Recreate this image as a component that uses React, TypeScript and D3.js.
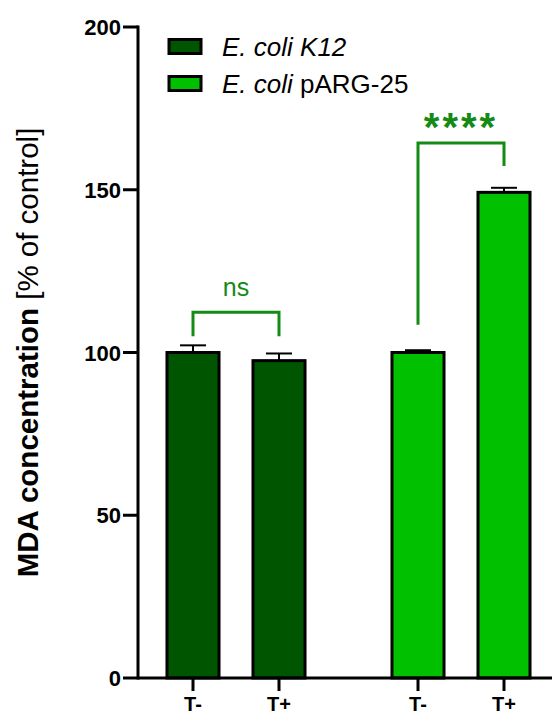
import React from 'react';
import * as d3 from 'd3';

const groups = ['K12', 'pARG-25'];
const conditions = ['T-', 'T+'];
const k12Values = [100, 97.5];
const k12Errors = [2.2, 2.2];
const pargValues = [100, 149.2];
const pargErrors = [0.7, 1.4];
const yTicks = [0, 50, 100, 150, 200];
const groupColors = ['#005500', '#00c000'];
const legendPrefix = ['E. coli', 'E. coli'];
const legendSuffix = [' K12', ' pARG-25'];
const legendSuffixItalic = [true, false];

// significance brackets: group index, bracket height, left leg end, right leg end, label
const sigGroup = [0, 1];
const sigTop = [112.4, 164.4];
const sigLeftEnd = [105, 108.5];
const sigRightEnd = [105, 157.3];
const sigLabel = ['ns', '****'];

const W = 552;
const H = 715;
const FONT = 'Arial, "Liberation Sans", sans-serif';
const SIG = '#158a15';

const App = () => {
  const y = d3.scaleLinear().domain([0, 200]).range([678, 27]);
  const x0 = d3.scaleBand().domain(groups).range([146, 551]).paddingInner(0.2).paddingOuter(0);
  const x1 = d3
    .scaleBand()
    .domain(conditions)
    .range([0, x0.bandwidth()])
    .paddingInner(0.395)
    .paddingOuter(0.244);

  const series = [
    { group: groups[0], values: k12Values, errors: k12Errors, color: groupColors[0] },
    { group: groups[1], values: pargValues, errors: pargErrors, color: groupColors[1] },
  ];

  const cx = (g: string, c: string) => (x0(g) as number) + (x1(c) as number) + x1.bandwidth() / 2;
  const bw = x1.bandwidth();
  const axisX = 138;

  return (
    <svg width={W} height={H} style={{ position: 'absolute', left: 0, top: 0 }} fontFamily={FONT}>
      <rect width={W} height={H} fill="#fff" />

      {/* bars */}
      {series.map((s, si) =>
        conditions.map((c, ci) => {
          const v = s.values[ci];
          const e = s.errors[ci];
          const xc = cx(s.group, c);
          return (
            <g key={`${si}-${ci}`}>
              <line x1={xc} x2={xc} y1={y(v)} y2={y(v + e)} stroke="#000" strokeWidth={2} />
              <line x1={xc - 13} x2={xc + 13} y1={y(v + e)} y2={y(v + e)} stroke="#000" strokeWidth={2} />
              <rect
                x={xc - bw / 2}
                y={y(v)}
                width={bw}
                height={y(0) - y(v)}
                fill={s.color}
                stroke="#000"
                strokeWidth={3}
              />
            </g>
          );
        })
      )}

      {/* y axis */}
      <line x1={axisX} x2={axisX} y1={y(200) - 1.5} y2={y(0) + 1.5} stroke="#000" strokeWidth={3} />
      {yTicks.map((t) => (
        <g key={t}>
          <line x1={axisX - 15} x2={axisX} y1={y(t)} y2={y(t)} stroke="#000" strokeWidth={3} />
          <text x={axisX - 17} y={y(t) + 8} textAnchor="end" fontSize={22} fontWeight="bold">
            {t}
          </text>
        </g>
      ))}

      {/* x axis */}
      <line x1={axisX} x2={W} y1={y(0)} y2={y(0)} stroke="#000" strokeWidth={3} />
      {series.map((s) =>
        conditions.map((c) => {
          const xc = cx(s.group, c);
          return (
            <g key={s.group + c}>
              <line x1={xc} x2={xc} y1={y(0)} y2={y(0) + 13} stroke="#000" strokeWidth={3} />
              <text x={xc} y={711} textAnchor="middle" fontSize={20} fontWeight="bold">
                {c}
              </text>
            </g>
          );
        })
      )}

      {/* y title */}
      <text transform={`translate(38,${(y(0) + y(200)) / 2}) rotate(-90)`} textAnchor="middle" fontSize={29.5}>
        <tspan fontWeight="bold">MDA concentration</tspan>
        <tspan> [% of control]</tspan>
      </text>

      {/* legend */}
      {groupColors.map((col, i) => (
        <g key={i} transform={`translate(0,${46.5 + i * 37})`}>
          <rect x={169} y={-7} width={32} height={14} fill={col} stroke="#000" strokeWidth={3} />
          <text x={222} y={9} fontSize={26}>
            <tspan fontStyle="italic">{legendPrefix[i]}</tspan>
            <tspan fontStyle={legendSuffixItalic[i] ? 'italic' : 'normal'}>{legendSuffix[i]}</tspan>
          </text>
        </g>
      ))}

      {/* significance */}
      {sigGroup.map((gi, i) => {
        const g = groups[gi];
        const xl = cx(g, conditions[0]);
        const xr = cx(g, conditions[1]);
        const top = y(sigTop[i]);
        const isStar = sigLabel[i] === '****';
        return (
          <g key={i}>
            <path
              d={`M${xl},${y(sigLeftEnd[i])}V${top}H${xr}V${y(sigRightEnd[i])}`}
              fill="none"
              stroke={SIG}
              strokeWidth={3}
            />
            <text
              x={(xl + xr) / 2}
              y={isStar ? top - 2 : top - 16}
              textAnchor="middle"
              fontSize={isStar ? 40 : 25}
              fontWeight={isStar ? 'bold' : 'normal'}
              letterSpacing={isStar ? 3 : 0}
              fill={SIG}
            >
              {sigLabel[i]}
            </text>
          </g>
        );
      })}
    </svg>
  );
};

export default App;
